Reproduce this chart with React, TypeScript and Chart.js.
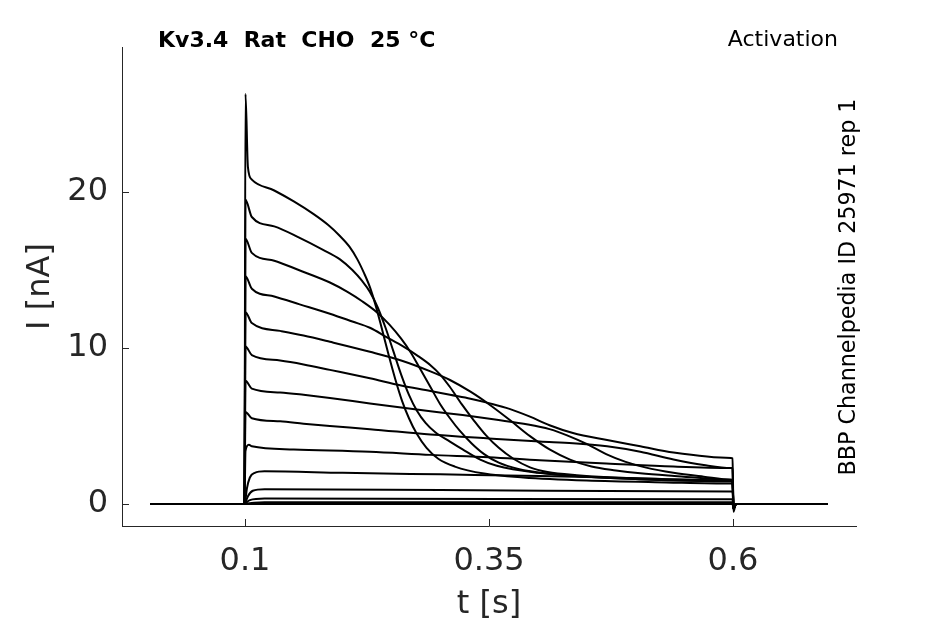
import Chart from 'chart.js/auto';
import { useEffect, useRef } from 'react';

const cellTitle = 'Kv3.4  Rat  CHO  25 °C';
const protocolName = 'Activation';
const sourceLabel = 'BBP Channelpedia ID 25971 rep 1';

const xTicks = [0.1, 0.35, 0.6];
const yTicks = [0, 10, 20];

// sweeps, largest step first: time (s) and current (nA)
const tA = [0.003, 0.0995, 0.1005, 0.103, 0.107, 0.13, 0.15, 0.17, 0.185, 0.197, 0.207, 0.215, 0.222, 0.228, 0.234, 0.24, 0.247, 0.254, 0.261, 0.268, 0.276, 0.286, 0.298, 0.315, 0.345, 0.385, 0.45, 0.52, 0.598, 0.5995, 0.6005, 0.603, 0.697];
const iA = [0, 0, 26.3, 21.6, 20.8, 20.1, 19.4, 18.6, 17.9, 17.2, 16.5, 15.7, 14.8, 13.9, 12.7, 11.3, 9.6, 8.0, 6.6, 5.5, 4.5, 3.6, 2.9, 2.4, 1.95, 1.7, 1.5, 1.4, 1.31, 1.3, -0.5, 0, 0];

const tB = [0.003, 0.0995, 0.1005, 0.107, 0.13, 0.155, 0.18, 0.197, 0.21, 0.22, 0.228, 0.236, 0.244, 0.252, 0.26, 0.268, 0.276, 0.285, 0.295, 0.31, 0.323, 0.341, 0.358, 0.4, 0.45, 0.5, 0.598, 0.5995, 0.6005, 0.603, 0.697];
const iB = [0, 0, 19.5, 18.4, 17.8, 17.1, 16.3, 15.7, 15.0, 14.3, 13.6, 12.6, 11.3, 9.8, 8.3, 7.0, 6.0, 5.2, 4.6, 4.0, 3.5, 2.85, 2.45, 2.0, 1.75, 1.6, 1.46, 1.45, -0.3, 0, 0];

const tC = [0.003, 0.0995, 0.1005, 0.107, 0.13, 0.155, 0.187, 0.205, 0.22, 0.235, 0.248, 0.26, 0.27, 0.28, 0.29, 0.3, 0.31, 0.32, 0.332, 0.345, 0.36, 0.38, 0.41, 0.45, 0.5, 0.598, 0.5995, 0.6005, 0.603, 0.697];
const iC = [0, 0, 17.0, 16.1, 15.6, 15.0, 14.2, 13.6, 13.0, 12.3, 11.5, 10.6, 9.7, 8.6, 7.5, 6.4, 5.5, 4.7, 3.9, 3.2, 2.65, 2.25, 1.95, 1.75, 1.6, 1.46, 1.45, -0.3, 0, 0];

const tD = [0.003, 0.0995, 0.1005, 0.107, 0.13, 0.156, 0.187, 0.21, 0.228, 0.245, 0.262, 0.277, 0.29, 0.3, 0.31, 0.322, 0.334, 0.347, 0.36, 0.375, 0.392, 0.41, 0.44, 0.5, 0.598, 0.5995, 0.6005, 0.603, 0.697];
const iD = [0, 0, 14.6, 13.8, 13.3, 12.8, 12.2, 11.7, 11.3, 10.7, 10.1, 9.5, 8.9, 8.3, 7.5, 6.4, 5.4, 4.4, 3.6, 2.9, 2.35, 2.05, 1.85, 1.65, 1.51, 1.5, -0.3, 0, 0];

const tE = [0.003, 0.0995, 0.1005, 0.107, 0.136, 0.16, 0.187, 0.228, 0.26, 0.29, 0.31, 0.331, 0.351, 0.371, 0.392, 0.412, 0.433, 0.455, 0.48, 0.505, 0.54, 0.598, 0.5995, 0.6005, 0.603, 0.697];
const iE = [0, 0, 12.3, 11.6, 11.1, 10.8, 10.4, 9.76, 9.2, 8.5, 7.95, 7.2, 6.35, 5.4, 4.35, 3.5, 2.85, 2.4, 2.15, 1.97, 1.8, 1.56, 1.55, -0.3, 0, 0];

const tF = [0.003, 0.0995, 0.1005, 0.107, 0.136, 0.16, 0.187, 0.228, 0.26, 0.29, 0.31, 0.331, 0.351, 0.371, 0.392, 0.412, 0.436, 0.471, 0.505, 0.539, 0.598, 0.5995, 0.6005, 0.603, 0.697];
const iF = [0, 0, 10.1, 9.55, 9.2, 8.95, 8.6, 8.06, 7.6, 7.25, 7.0, 6.75, 6.45, 6.1, 5.6, 5.05, 4.55, 4.1, 3.7, 3.3, 2.95, 2.93, -0.3, 0, 0];

const tG = [0.003, 0.0995, 0.1005, 0.107, 0.136, 0.16, 0.187, 0.228, 0.29, 0.323, 0.358, 0.39, 0.412, 0.43, 0.45, 0.47, 0.49, 0.51, 0.539, 0.57, 0.598, 0.5995, 0.6005, 0.603, 0.697];
const iG = [0, 0, 7.9, 7.4, 7.15, 7.0, 6.8, 6.45, 5.95, 5.7, 5.4, 5.1, 4.8, 4.4, 3.85, 3.2, 2.7, 2.35, 2.0, 1.75, 1.56, 1.55, -0.3, 0, 0];

const tH = [0.003, 0.0995, 0.1005, 0.107, 0.136, 0.16, 0.187, 0.228, 0.29, 0.35, 0.402, 0.436, 0.471, 0.505, 0.539, 0.57, 0.598, 0.5995, 0.6005, 0.603, 0.697];
const iH = [0, 0, 5.9, 5.5, 5.3, 5.15, 5.0, 4.8, 4.45, 4.2, 4.0, 3.9, 3.7, 3.35, 2.85, 2.5, 2.31, 2.3, -0.3, 0, 0];

const tI = [0.003, 0.0995, 0.1005, 0.104, 0.107, 0.15, 0.228, 0.29, 0.35, 0.402, 0.47, 0.539, 0.598, 0.5995, 0.6005, 0.603, 0.697];
const iI = [0, 0, 3.4, 3.8, 3.7, 3.5, 3.35, 3.15, 3.0, 2.8, 2.6, 2.4, 2.31, 2.3, -0.3, 0, 0];

const tJ = [0.003, 0.0995, 0.1005, 0.102, 0.105, 0.11, 0.12, 0.2, 0.3, 0.402, 0.5, 0.598, 0.5995, 0.6005, 0.603, 0.697];
const iJ = [0, 0, 0.3, 1.0, 1.7, 2.0, 2.1, 2.0, 1.9, 1.8, 1.65, 1.51, 1.5, -0.3, 0, 0];

const tK = [0.003, 0.0995, 0.1005, 0.103, 0.108, 0.12, 0.3, 0.598, 0.5995, 0.6005, 0.603, 0.697];
const iK = [0, 0, 0.1, 0.5, 0.85, 0.95, 0.9, 0.8, 0.8, -0.3, 0, 0];

const tL = [0.003, 0.0995, 0.1005, 0.105, 0.12, 0.598, 0.5995, 0.6005, 0.603, 0.697];
const iL = [0, 0, 0.05, 0.25, 0.35, 0.3, 0.3, -0.3, 0, 0];

const tM = [0.003, 0.0995, 0.1005, 0.12, 0.598, 0.5995, 0.6005, 0.603, 0.697];
const iM = [0, 0, 0.02, 0.12, 0.12, 0.12, -0.3, 0, 0];

const tN = [0.003, 0.5995, 0.6005, 0.603, 0.697];
const iN = [0, 0, -0.3, 0, 0];

const sweeps = [
  [tA, iA], [tB, iB], [tC, iC], [tD, iD], [tE, iE], [tF, iF], [tG, iG],
  [tH, iH], [tI, iI], [tJ, iJ], [tK, iK], [tL, iL], [tM, iM], [tN, iN],
];

const axisColor = '#262626';
const fontFamily = '"DejaVu Sans", sans-serif';

const decorations = {
  id: 'decorations',
  afterDatasetsDraw(chart: any) {
    const { ctx, chartArea, scales } = chart;
    ctx.save();
    // inward ticks
    ctx.strokeStyle = axisColor;
    ctx.lineWidth = 1;
    ctx.beginPath();
    for (const v of xTicks) {
      const px = Math.round(scales.x.getPixelForValue(v)) + 0.5;
      ctx.moveTo(px, chartArea.bottom);
      ctx.lineTo(px, chartArea.bottom - 7);
    }
    for (const v of yTicks) {
      const py = Math.round(scales.y.getPixelForValue(v)) + 0.5;
      ctx.moveTo(chartArea.left, py);
      ctx.lineTo(chartArea.left + 7, py);
    }
    ctx.stroke();

    ctx.fillStyle = '#000';
    ctx.textBaseline = 'alphabetic';
    ctx.font = `bold 22px ${fontFamily}`;
    ctx.textAlign = 'left';
    ctx.fillText(cellTitle, 158, 47);

    ctx.font = `22px ${fontFamily}`;
    ctx.textAlign = 'right';
    ctx.fillText(protocolName, 838, 46);

    ctx.font = `18px ${fontFamily}`;
    const w = ctx.measureText(sourceLabel).width;
    const size = (18 * 377) / w;
    ctx.font = `${size.toFixed(2)}px ${fontFamily}`;
    ctx.translate(849, 287);
    ctx.rotate(-Math.PI / 2);
    ctx.textAlign = 'center';
    ctx.textBaseline = 'middle';
    ctx.fillText(sourceLabel, 0, 0);
    ctx.restore();
  },
};

export default function App() {
  const canvasRef = useRef<HTMLCanvasElement>(null);

  useEffect(() => {
    if (!canvasRef.current) return;

    const chart = new Chart(canvasRef.current, {
      type: 'line',
      data: {
        datasets: sweeps.map(([t, i]) => ({
          data: t.map((x, k) => ({ x, y: i[k] })),
          borderColor: '#000',
          borderWidth: 2,
          pointRadius: 0,
          cubicInterpolationMode: 'monotone' as const,
          borderJoinStyle: 'round' as const,
        })),
      },
      options: {
        animation: false,
        responsive: true,
        maintainAspectRatio: false,
        layout: { padding: { top: 47, right: 89, left: 0, bottom: 0 } },
        plugins: { legend: { display: false }, tooltip: { enabled: false } },
        scales: {
          x: {
            type: 'linear',
            min: -0.026,
            max: 0.726,
            afterBuildTicks: (s: any) => {
              s.ticks = xTicks.map((value) => ({ value }));
            },
            afterFit: (s: any) => {
              s.height = 98;
            },
            grid: { display: false, drawTicks: false },
            border: { display: true, color: axisColor, width: 1 },
            ticks: {
              padding: 16,
              color: axisColor,
              font: { family: fontFamily, size: 32 },
              maxRotation: 0,
              callback: (v: any) => String(v),
            },
            title: {
              display: true,
              text: 't [s]',
              color: axisColor,
              font: { family: fontFamily, size: 32 },
              padding: { top: 0, bottom: 0 },
            },
          },
          y: {
            type: 'linear',
            min: -1.41,
            max: 29.3,
            afterBuildTicks: (s: any) => {
              s.ticks = yTicks.map((value) => ({ value }));
            },
            afterFit: (s: any) => {
              s.width = 122;
            },
            grid: { display: false, drawTicks: false },
            border: { display: true, color: axisColor, width: 1 },
            ticks: {
              padding: 14,
              color: axisColor,
              font: { family: fontFamily, size: 32 },
              callback: (v: any) => String(v),
            },
            title: {
              display: true,
              text: 'I [nA]',
              color: axisColor,
              font: { family: fontFamily, size: 32 },
              padding: { top: 21, bottom: 0 },
            },
          },
        },
      },
      plugins: [decorations],
    });

    return () => chart.destroy();
  }, []);

  return (
    <div style={{ position: 'fixed', left: 0, top: 0, width: 945, height: 624, background: '#fff' }}>
      <canvas ref={canvasRef}></canvas>
    </div>
  );
}
